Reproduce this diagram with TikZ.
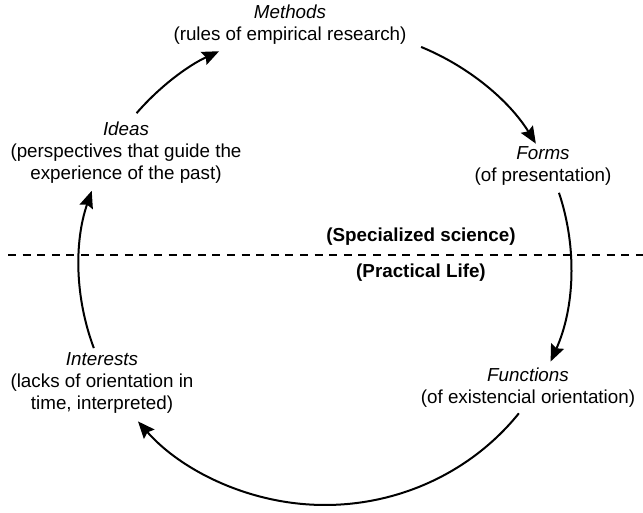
\documentclass[tikz,border=0pt]{standalone}
\usepackage{fontspec}
\setmainfont{Liberation Sans}
\usetikzlibrary{arrows.meta,calc}
\begin{document}
\begin{tikzpicture}[x=1pt,y=1pt,
  lbl/.style={align=center,inner sep=0pt,font=\fontsize{18.8}{22}\selectfont},
  side/.style={font=\fontsize{18.8}{22}\selectfont\bfseries,inner sep=0pt},
  cyc/.style={line width=2pt,-{Stealth[length=17pt,width=14pt,inset=2.5pt]}},
  divider/.style={line width=2.6pt,dash pattern=on 8pt off 6.6pt}]
\useasboundingbox (0,0) rectangle (643,513);
\node[lbl] (methods) at (290,488.5) {\textit{Methods}\\(rules of empirical research)};
\node[lbl] (forms) at (543,347) {\textit{Forms}\\(of presentation)};
\node[lbl] (functions) at (528,125) {\textit{Functions}\\(of existencial orientation)};
\node[lbl] (interests) at (102,130) {\textit{Interests}\\(lacks of orientation in\\time, interpreted)};
\node[lbl] (ideas) at (126,360) {\textit{Ideas}\\(perspectives that guide the\\experience of the past)};
\node[side] (spec) at (421,276) {(Specialized science)};
\node[side] (prac) at (421,240) {(Practical Life)};
\coordinate (dl) at (8,258);
\coordinate (dr) at (643,258);
\draw[divider] (dl) -- (dr);
\coordinate (o) at (325,246.5);
\coordinate (s1) at ($(o)+(140:246 and 238.5)$);
\coordinate (s2) at ($(o)+(67:246 and 238.5)$);
\coordinate (s3) at ($(o)+(18:246 and 238.5)$);
\coordinate (s4) at ($(o)+(-38:246 and 238.5)$);
\coordinate (s5) at ($(o)+(200:246 and 238.5)$);
\draw[cyc] (s1) arc[start angle=140,end angle=115.5,x radius=246,y radius=238.5];
\draw[cyc] (s2) arc[start angle=67,end angle=31,x radius=246,y radius=238.5];
\draw[cyc] (s3) arc[start angle=18,end angle=-23.5,x radius=246,y radius=238.5];
\draw[cyc] (s4) arc[start angle=-38,end angle=-139.5,x radius=246,y radius=238.5];
\draw[cyc] (s5) arc[start angle=200,end angle=161.5,x radius=246,y radius=238.5];
\end{tikzpicture}
\end{document}
